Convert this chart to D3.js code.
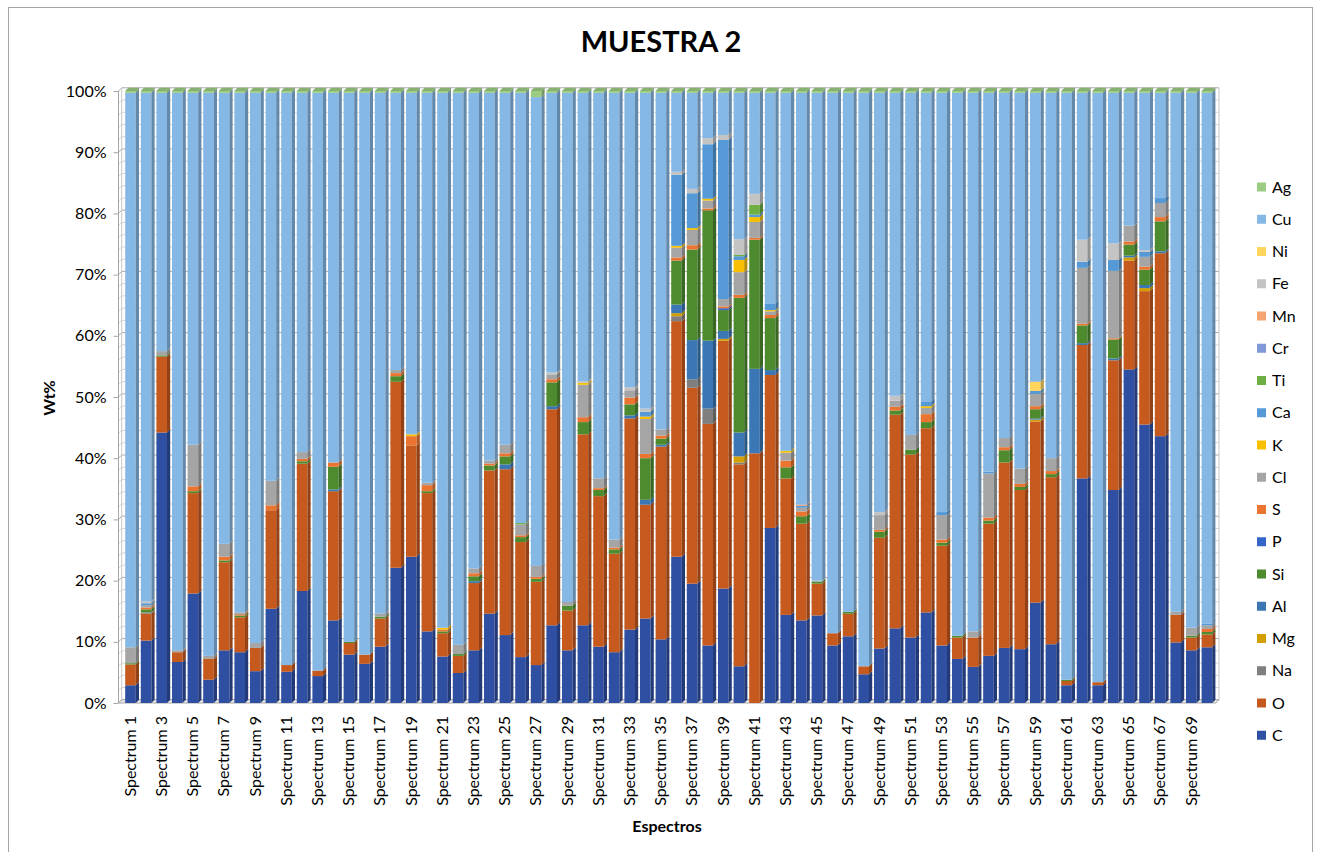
<!DOCTYPE html>
<html><head><meta charset="utf-8">
<script src="https://cdn.jsdelivr.net/npm/d3@7"></script>
<style>body{margin:0;background:#fff}svg{display:block;font-family:Lato,"Open Sans",sans-serif}</style>
</head><body><svg id="c" width="1319" height="852"></svg>
<script>
const spectra = ["Spectrum 1","Spectrum 2","Spectrum 3","Spectrum 4","Spectrum 5","Spectrum 6","Spectrum 7","Spectrum 8","Spectrum 9","Spectrum 10",
"Spectrum 11","Spectrum 12","Spectrum 13","Spectrum 14","Spectrum 15","Spectrum 16","Spectrum 17","Spectrum 18","Spectrum 19","Spectrum 20",
"Spectrum 21","Spectrum 22","Spectrum 23","Spectrum 24","Spectrum 25","Spectrum 26","Spectrum 27","Spectrum 28","Spectrum 29","Spectrum 30",
"Spectrum 31","Spectrum 32","Spectrum 33","Spectrum 34","Spectrum 35","Spectrum 36","Spectrum 37","Spectrum 38","Spectrum 39","Spectrum 40",
"Spectrum 41","Spectrum 42","Spectrum 43","Spectrum 44","Spectrum 45","Spectrum 46","Spectrum 47","Spectrum 48","Spectrum 49","Spectrum 50",
"Spectrum 51","Spectrum 52","Spectrum 53","Spectrum 54","Spectrum 55","Spectrum 56","Spectrum 57","Spectrum 58","Spectrum 59","Spectrum 60",
"Spectrum 61","Spectrum 62","Spectrum 63","Spectrum 64","Spectrum 65","Spectrum 66","Spectrum 67","Spectrum 68","Spectrum 69","Spectrum 70"];
const elements = ["C","O","Na","Mg","Al","Si","P","S","Cl","K","Ca","Ti","Cr","Mn","Fe","Ni","Cu","Ag"];
const yTicks = [0,0.1,0.2,0.3,0.4,0.5,0.6,0.7,0.8,0.9,1];

const C  = [2.9,10.2,44.2,6.7,17.9,3.8,8.6,8.3,5.2,15.4, 5.1,18.3,4.4,13.5,7.9,6.4,9.2,22.1,23.9,11.7, 7.6,4.9,8.6,14.6,11.1,7.5,6.2,12.7,8.6,12.7, 9.2,8.3,12.0,13.8,10.4,23.9,19.5,9.4,18.7,6.0, 0,28.6,14.4,13.5,14.3,9.4,10.9,4.7,8.9,12.2, 10.7,14.8,9.4,7.2,5.9,7.7,9.0,8.8,16.4,9.6, 2.9,36.7,2.9,34.8,54.5,45.5,43.6,9.9,8.6,9.1];
const O  = [3.4,4.4,12.4,1.6,16.4,3.4,14.4,5.7,3.8,16.1, 1.1,20.8,0.9,21.1,1.9,1.5,4.6,30.4,18.2,22.6, 3.8,2.8,11.0,23.4,27.1,18.8,13.6,35.3,6.5,31.2, 24.6,16.1,34.5,18.6,31.5,38.5,32.0,36.2,40.5,33.0, 40.8,25.0,22.3,15.8,5.2,2.0,3.7,1.3,18.1,34.9, 29.9,30.1,16.3,3.5,4.8,21.6,30.3,26.0,29.6,27.3, 0.7,21.8,0.5,21.2,17.8,21.8,29.9,4.5,2.1,2.1];
const Na = [0,0.2,0,0,0,0,0,0,0,0, 0,0,0,0,0,0,0,0,0,0, 0,0,0,0,0,0,0,0,0,0, 0,0,0,0,0,0.8,1.4,2.5,0,0.3, 0,0,0,0,0,0,0,0,0,0, 0,0,0,0,0,0,0,0,0,0, 0,0,0,0,0,0,0,0,0,0];
const Mg = [0,0,0,0,0,0,0,0,0,0, 0,0,0,0,0,0,0,0,0,0, 0,0,0,0,0,0,0,0,0,0, 0,0,0,0,0,0.5,0,0,0.3,1.0, 0,0,0,0,0,0,0,0,0,0, 0,0,0,0,0,0,0,0,0.3,0, 0,0,0,0,0.5,0.5,0,0,0,0];
const Al = [0,0,0,0,0,0,0,0,0,0, 0,0,0,0.3,0,0,0,0,0,0, 0,0,0.3,0,0.8,0,0,0.5,0,0, 0,0,0.5,0.8,0.3,1.4,6.4,11.1,1.3,3.9, 13.8,0.8,0,0,0,0,0,0,0,0, 0,0,0,0,0,0,0,0,0.2,0, 0,0.3,0,0.3,0.3,0.5,0.3,0,0,0];
const Si = [0.2,0.5,0.2,0,0.3,0,0.3,0.3,0,0, 0,0.4,0,3.7,0.2,0,0.3,0.9,0,0.3, 0.3,0.3,0.8,0.8,1.3,0.8,0.5,3.9,0.8,2.0, 1.0,0.7,1.8,6.8,1.0,7.2,14.8,21.3,3.4,22.0, 21.1,8.5,1.8,1.2,0.3,0,0.3,0,1.0,0.7, 0.8,1.0,0.5,0.3,0,0.5,2.0,0.5,1.5,0.5, 0.2,2.9,0,3.1,1.8,2.5,4.9,0,0.3,0.4];
const P  = [0,0,0,0,0,0,0,0,0,0, 0,0,0,0,0,0,0,0,0,0, 0,0,0,0,0,0,0,0,0,0, 0,0,0,0,0,0,0,0,0.3,0, 0,0,0,0,0,0,0,0,0,0, 0,0,0,0,0,0,0,0,0,0, 0,0,0,0,0,0,0,0,0,0];
const S  = [0,0.3,0,0,0.8,0,0.6,0.2,0,0.8, 0,0.4,0,0.7,0,0,0,0.5,1.5,1.0, 0.3,0,0.5,0.3,0.5,0.3,0.3,0.5,0,0.8, 0.3,0.3,1.1,0.7,0.5,0.5,0.7,0.3,0.3,0.5, 0.3,0.5,1.1,0.8,0,0,0,0,0.3,0.6, 0,1.3,0.5,0,0,0.5,0.5,0.5,0.5,0.5, 0,0.3,0,0.2,0.5,0.5,0.7,0,0,0.5];
const Cl = [2.6,0.4,0.7,0.3,6.8,0.5,2.1,0.3,0.8,4.0, 0,1.1,0,0,0,0,0.5,0.5,0,0.4, 0,1.5,0.8,0.5,1.4,1.8,1.8,0.8,0.6,5.3, 1.6,1.3,1.2,5.7,1.0,1.6,2.5,1.3,1.2,3.7, 2.6,0.6,1.3,0.6,0.2,0,0,0,2.4,1.0, 2.4,1.0,4.0,0,1.0,7.2,1.5,2.5,2.0,2.1, 0,9.1,0,11.0,2.6,1.6,2.3,0.5,1.3,0.6];
const K  = [0,0,0,0,0,0,0,0,0,0, 0,0,0,0,0,0,0,0,0.3,0, 0.3,0,0,0,0,0,0,0,0,0.3, 0,0,0,0.4,0,0.3,0.3,0.3,0,2.0, 0.8,0.2,0.3,0,0,0,0,0,0,0, 0,0.3,0,0,0,0,0,0,0,0, 0,0,0,0,0,0,0,0,0,0];
const Ca = [0,0.3,0,0,0,0,0,0,0,0, 0,0,0,0,0,0,0,0,0,0, 0,0,0,0,0,0,0,0,0,0, 0,0,0,0.8,0,11.6,5.7,8.9,26.0,0.6, 0.4,1.1,0,0.3,0,0,0,0,0,0, 0,0.8,0.5,0,0,0.3,0,0,0.5,0, 0,1.0,0,1.8,0,0.8,0.8,0,0,0.3];
const Ti = [0,0,0,0,0,0,0,0,0,0, 0,0,0,0,0,0,0,0,0,0, 0,0,0,0,0,0.2,0,0,0,0, 0,0,0,0,0,0,0,0,0,0.2, 1.6,0,0,0,0,0,0,0,0,0, 0,0,0,0,0,0,0,0,0,0, 0,0,0,0,0,0,0,0,0,0];
const Cr = [0,0,0,0,0,0,0,0,0,0, 0,0,0,0,0,0,0,0,0,0, 0,0,0,0,0,0,0,0,0,0, 0,0,0,0,0,0,0,0,0,0, 0,0,0,0,0,0,0,0,0,0, 0,0,0,0,0,0,0,0,0,0, 0,0,0,0,0,0,0,0,0,0];
const Mn = [0,0,0,0,0,0,0,0,0,0, 0,0,0,0,0,0,0,0,0,0, 0,0,0,0,0,0,0,0,0,0, 0,0,0,0,0,0,0,0,0,0, 0,0,0,0.2,0,0,0,0,0,0, 0,0,0,0,0,0,0,0,0,0, 0,0,0,0,0,0,0,0,0,0];
const Fe = [0,0.3,0,0,0,0,0,0,0,0, 0,0,0,0,0,0,0,0,0,0, 0,0,0,0,0,0,0,0.3,0,0.3, 0,0,0.5,0.5,0,0.5,0.7,1.0,0.8,2.6, 1.8,0,0,0,0,0,0,0,0.5,0.8, 0,0,0,0,0,0,0,0,0,0, 0,3.6,0,2.7,0,0.3,0,0,0,0];
const Ni = [0,0,0,0,0,0,0,0,0,0, 0,0,0,0,0,0,0,0,0,0, 0,0,0,0,0,0,0,0,0,0, 0,0,0,0,0,0,0,0,0,0, 0,0,0,0,0,0,0,0,0,0, 0,0,0,0,0,0,0,0,1.5,0, 0,0,0,0,0,0,0,0,0,0];
const Cu = [90.6,83.1,42.2,91.1,57.5,92.0,73.7,84.9,89.9,63.4, 93.5,58.7,94.4,60.4,89.7,91.8,85.1,45.3,55.8,63.7, 87.4,90.2,77.7,60.1,57.5,70.3,76.6,45.7,83.2,47.1, 63.0,73.0,48.1,51.6,55.0,12.9,15.7,7.4,6.9,23.9, 16.5,34.4,58.5,67.3,79.7,88.3,84.8,93.7,68.5,49.5, 55.9,50.4,68.5,88.7,88.0,61.9,56.4,61.4,47.2,59.7, 95.9,24.0,96.3,24.6,21.7,25.7,17.2,84.8,87.4,86.7];
const Ag = [0.3,0.3,0.3,0.3,0.3,0.3,0.3,0.3,0.3,0.3, 0.3,0.3,0.3,0.3,0.3,0.3,0.3,0.3,0.3,0.3, 0.3,0.3,0.3,0.3,0.3,0.3,1.0,0.3,0.3,0.3, 0.3,0.3,0.3,0.3,0.3,0.3,0.3,0.3,0.3,0.3, 0.3,0.3,0.3,0.3,0.3,0.3,0.3,0.3,0.3,0.3, 0.3,0.3,0.3,0.3,0.3,0.3,0.3,0.3,0.3,0.3, 0.3,0.3,0.3,0.3,0.3,0.3,0.3,0.3,0.3,0.3];

const seriesArrays = {C,O,Na,Mg,Al,Si,P,S,Cl,K,Ca,Ti,Cr,Mn,Fe,Ni,Cu,Ag};
const colors = {C:"#2F4FA2",O:"#C65A1E",Na:"#7F7F7F",Mg:"#D39E00",Al:"#3A77B4",Si:"#4E8B2F",P:"#3466C9",S:"#EB7530",
  Cl:"#A5A5A5",K:"#F8C000",Ca:"#559AD6",Ti:"#6DAF42",Cr:"#7E98D8",Mn:"#F4A470",Fe:"#C4C4C4",Ni:"#FFD55E",Cu:"#86B8E6",Ag:"#9CCC82"};

const table = spectra.map((s,i)=>{const r={spectrum:s}; elements.forEach(e=>r[e]=seriesArrays[e][i]); return r;});
const stacked = d3.stack().keys(elements).offset(d3.stackOffsetExpand)(table);

const svg = d3.select("#c");
const x = d3.scaleBand().domain(spectra).range([123.5,1215.5]);
const y = d3.scaleLinear().domain([0,1]).range([703,91]);
const bw = x.bandwidth(), fw = bw*0.68, dx = 3.2, dy = 3.2;
const front = s => x(s) + (bw - fw)/2 - 0.8;

// chart border
svg.append("rect").attr("x",8.5).attr("y",7.5).attr("width",1304).attr("height",860).attr("fill","none").attr("stroke","#A6A6A6");

// title
svg.append("text").attr("x",661).attr("y",52).attr("text-anchor","middle").attr("font-size",29).attr("font-weight",700).attr("fill","#000").text("MUESTRA 2");

// walls / gridlines
const xL = 118.5, xR = 1219;
const minor = d3.range(0,51).map(k=>k/50);
const g = svg.append("g");
minor.forEach(v=>{
  const major = Math.round(v*50)%5===0;
  const yy = y(v);
  g.append("line").attr("x1",xL+dx).attr("x2",xR).attr("y1",yy-dy).attr("y2",yy-dy)
   .attr("stroke",major?"#ABABAB":"#D6D6D6").attr("stroke-width",1);
  g.append("line").attr("x1",xL).attr("x2",xL+dx).attr("y1",yy).attr("y2",yy-dy)
   .attr("stroke",major?"#ABABAB":"#D6D6D6");
});
g.append("line").attr("x1",xL).attr("x2",xL).attr("y1",y(1)).attr("y2",y(0)).attr("stroke","#A6A6A6");
g.append("line").attr("x1",xL+dx).attr("x2",xL+dx).attr("y1",y(1)-dy).attr("y2",y(0)-dy).attr("stroke","#C8C8C8");
g.append("line").attr("x1",xR).attr("x2",xR).attr("y1",y(1)-dy).attr("y2",y(0)-dy).attr("stroke","#C8C8C8");
g.append("path").attr("d",`M${xL},${y(0)}L${xR-dx},${y(0)}L${xR},${y(0)-dy}L${xL+dx},${y(0)-dy}Z`).attr("fill","#E8E8E8").attr("stroke","#A6A6A6");

// y axis
const yAxis = svg.append("g").attr("transform",`translate(${xL},0)`)
  .call(d3.axisLeft(y).tickValues(yTicks).tickFormat(d3.format(".0%")).tickSize(5).tickPadding(7));
yAxis.select(".domain").remove();
yAxis.selectAll("line").attr("stroke","#A6A6A6");
yAxis.selectAll("text").attr("font-size",16).attr("font-family","Lato").attr("fill","#000");

// bars
const bars = svg.append("g");
spectra.forEach((s,i)=>{
  const x0 = front(s), x1 = x0 + fw;
  stacked.forEach((ser,k)=>{
    const d = ser[i]; const yb = y(d[0]), yt = y(d[1]);
    if (yb - yt <= 0) return;
    const col = colors[ser.key];
    bars.append("rect").attr("x",x0).attr("y",yt).attr("width",fw).attr("height",yb-yt).attr("fill",col);
    bars.append("path").attr("d",`M${x1},${yt}L${x1+dx},${yt-dy}L${x1+dx},${yb-dy}L${x1},${yb}Z`)
      .attr("fill",d3.color(col).darker(0.85));
  });
  const top = stacked[stacked.length-1][i];
  const yt = y(top[1]);
  bars.append("path").attr("d",`M${x0},${yt}L${x1},${yt}L${x1+dx},${yt-dy}L${x0+dx},${yt-dy}Z`)
    .attr("fill",d3.color(colors.Ag).darker(0.4));
});

// x axis labels
const odd = spectra.filter((s,i)=>i%2===0);
const xAxis = svg.append("g").attr("transform",`translate(-1.2,${y(0)})`)
  .call(d3.axisBottom(x).tickValues(odd).tickSize(0));
xAxis.select(".domain").remove();
xAxis.selectAll("text").attr("transform","rotate(-90)").attr("x",-13).attr("y",0).attr("dy","0.35em")
  .attr("text-anchor","end").attr("font-size",16).attr("font-family","Lato").attr("fill","#000");

// axis titles
svg.append("text").attr("transform","translate(55,398) rotate(-90)").attr("text-anchor","middle")
  .attr("font-size",16).attr("font-weight",700).text("Wt%");
svg.append("text").attr("x",667).attr("y",832).attr("text-anchor","middle")
  .attr("font-size",16).attr("font-weight",700).text("Espectros");

// legend
const legendOrder = elements.slice().reverse();
const lg = svg.append("g");
legendOrder.forEach((e,i)=>{
  const yy = 187 + i*32.25;
  lg.append("rect").attr("x",1257).attr("y",yy-4.5).attr("width",9).attr("height",9).attr("fill",colors[e]);
  lg.append("text").attr("x",1272).attr("y",yy).attr("dy","0.35em").attr("font-size",16).text(e);
});
</script></body></html>
